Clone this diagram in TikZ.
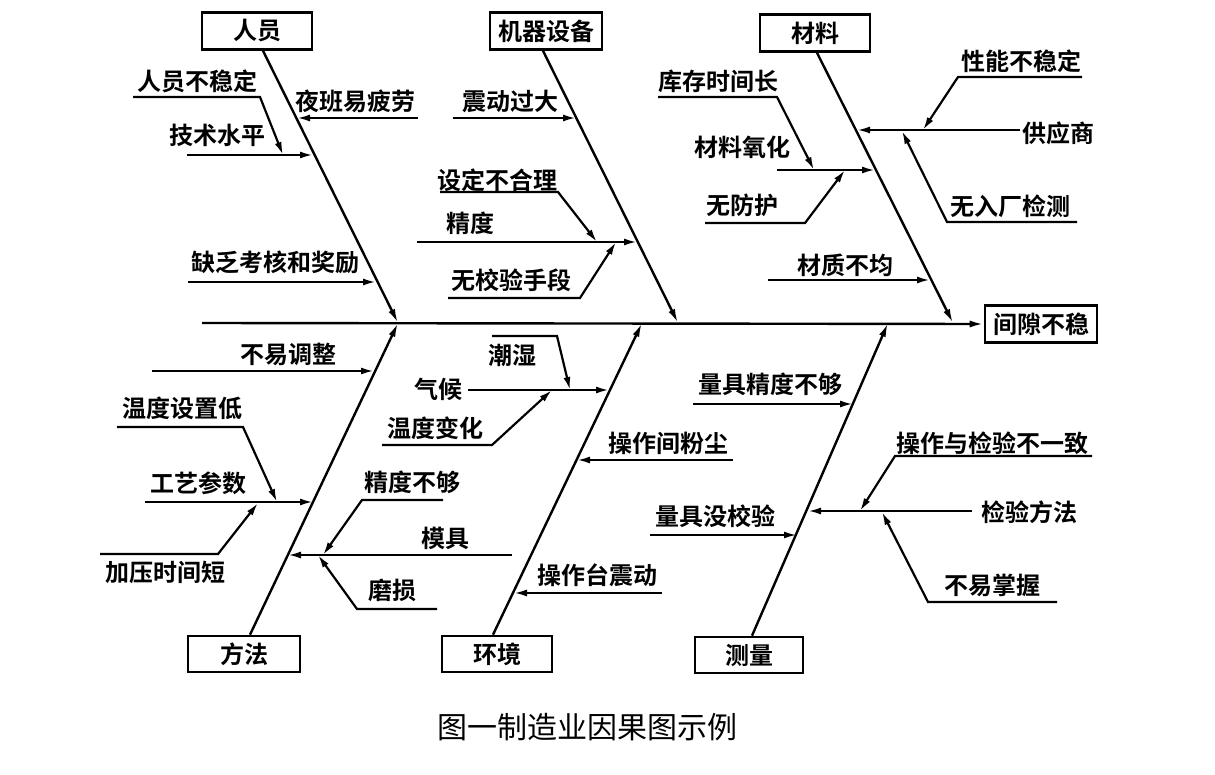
\documentclass[tikz,border=0pt]{standalone}
\usepackage{fontspec}
\usetikzlibrary{arrows.meta}
\IfFontExistsTF{Noto Sans CJK SC Bold}
  {\newfontfamily\lblfont{Noto Sans CJK SC Bold}}
  {\newfontfamily\lblfont[FakeBold=3]{Noto Sans CJK SC}}
\newfontfamily\capfont{Noto Sans CJK SC}
\begin{document}
\begin{tikzpicture}[x=1pt,y=-1pt,
  lbl/.style={font=\lblfont\fontsize{24}{24}\selectfont, inner sep=0pt, anchor=center},
  cat/.style={draw, line width=2.6pt, minimum width=110pt, minimum height=37pt, inner sep=0pt, font=\lblfont\fontsize{24}{24}\selectfont},
  bone/.style={line width=2.4pt, -{Latex[length=14pt,width=7pt]}},
  br/.style={line width=2.2pt, -{Latex[length=13pt,width=7pt]}}
]
\useasboundingbox[fill=white] (0,0) rectangle (1215,775);

% effect and spine
\node[cat, minimum width=112pt] (eff) at (1041,324) {间隙不稳};
\coordinate (tail) at (202,323);
\draw[bone] (tail) -- (eff.west);

% category boxes
\node[cat] (c1) at (257,31) {人员};
\node[cat, minimum width=112pt] (c2) at (546,31) {机器设备};
\node[cat] (c3) at (815,33) {材料};
\node[cat, minimum width=112pt, minimum height=36pt] (c4) at (244,654) {方法};
\node[cat, minimum height=36pt] (c5) at (497,654) {环境};
\node[cat, minimum width=108pt, minimum height=36pt] (c6) at (749,655) {测量};

% junctions on spine
\coordinate (j1) at (398,323);
\coordinate (j2) at (678,323);
\coordinate (j3) at (953,323);
\coordinate (j5) at (642,323);
\coordinate (j6) at (888,323);

% main bones
\draw[bone] ([xshift=6pt]c1.south) -- (j1);
\draw[bone] ([xshift=-3pt]c2.south) -- (j2);
\draw[bone] ([xshift=2pt]c3.south) -- (j3);
\draw[bone] ([xshift=6pt]c4.north) -- (j1);
\draw[bone] ([xshift=-4pt]c5.north) -- (j5);
\draw[bone] ([xshift=3pt]c6.north) -- (j6);

% ===== 人员 =====
\node[lbl] (a1) at (197,81) {人员不稳定};
\coordinate (a1s) at (133,97); \coordinate (a1k) at (260,97);
\node[lbl] (a2) at (217,135) {技术水平};
\coordinate (a2s) at (187,155); \coordinate (a2e) at (313,155); \coordinate (a2m) at (283,155);
\node[lbl] (a3) at (355,101) {夜班易疲劳};
\coordinate (a3s) at (418,118); \coordinate (a3e) at (297,118);
\node[lbl] (a4) at (275,262) {缺乏考核和奖励};
\coordinate (a4s) at (188,282); \coordinate (a4e) at (376,282);
\draw[br] (a1s) -- (a1k) -- (a2m);
\draw[br] (a2s) -- (a2e);
\draw[br] (a3s) -- (a3e);
\draw[br] (a4s) -- (a4e);

% ===== 机器设备 =====
\node[lbl] (b1) at (510,101) {震动过大};
\coordinate (b1s) at (453,118); \coordinate (b1e) at (576,118);
\node[lbl] (b2) at (497,180) {设定不合理};
\coordinate (b2s) at (440,192); \coordinate (b2k) at (558,192); \coordinate (b2m) at (597,242);
\node[lbl] (b3) at (470,223) {精度};
\coordinate (b3s) at (417,242); \coordinate (b3e) at (637,242);
\node[lbl] (b4) at (511,280) {无校验手段};
\coordinate (b4s) at (448,298); \coordinate (b4k) at (580,298); \coordinate (b4m) at (616,242);
\draw[br] (b1s) -- (b1e);
\draw[br] (b2s) -- (b2k) -- (b2m);
\draw[br] (b3s) -- (b3e);
\draw[br] (b4s) -- (b4k) -- (b4m);

% ===== 材料 =====
\node[lbl] (m1) at (718,81) {库存时间长};
\coordinate (m1s) at (658,97); \coordinate (m1k) at (777,97); \coordinate (m1m) at (814,170);
\node[lbl] (m2) at (742,147) {材料氧化};
\coordinate (m2s) at (777,170); \coordinate (m2e) at (875,170);
\node[lbl] (m3) at (742,205) {无防护};
\coordinate (m3s) at (705,223); \coordinate (m3k) at (805,223); \coordinate (m3m) at (845,170);
\node[lbl] (m4) at (845,265) {材质不均};
\coordinate (m4s) at (768,280); \coordinate (m4e) at (930,280);
\node[lbl] (m5) at (1058,133) {供应商};
\coordinate (m5s) at (1020,130); \coordinate (m5e) at (857,130);
\node[lbl] (m6) at (1021,61) {性能不稳定};
\coordinate (m6s) at (1082,77); \coordinate (m6k) at (958,77); \coordinate (m6m) at (923,130);
\node[lbl] (m7) at (1010,206) {无入厂检测};
\coordinate (m7s) at (1077,222); \coordinate (m7k) at (947,222); \coordinate (m7m) at (902,131);
\draw[br] (m1s) -- (m1k) -- (m1m);
\draw[br] (m2s) -- (m2e);
\draw[br] (m3s) -- (m3k) -- (m3m);
\draw[br] (m4s) -- (m4e);
\draw[br] (m5s) -- (m5e);
\draw[br] (m6s) -- (m6k) -- (m6m);
\draw[br] (m7s) -- (m7k) -- (m7m);

% ===== 方法 =====
\node[lbl] (f1) at (288,354) {不易调整};
\coordinate (f1s) at (152,371); \coordinate (f1e) at (374,371);
\node[lbl] (f2) at (182,408) {温度设置低};
\coordinate (f2s) at (117,427); \coordinate (f2k) at (243,427); \coordinate (f2m) at (277,502);
\node[lbl] (f3) at (198,483) {工艺参数};
\coordinate (f3s) at (145,502); \coordinate (f3e) at (313,502);
\node[lbl] (f4) at (165,572) {加压时间短};
\coordinate (f4s) at (100,554); \coordinate (f4k) at (218,554); \coordinate (f4m) at (258,503);
\node[lbl] (f5) at (445,538) {模具};
\coordinate (f5s) at (512,555); \coordinate (f5e) at (288,555);
\node[lbl] (f6) at (412,482) {精度不够};
\coordinate (f6s) at (443,500); \coordinate (f6k) at (362,500); \coordinate (f6m) at (323,555);
\node[lbl] (f7) at (392,590) {磨损};
\coordinate (f7s) at (437,609); \coordinate (f7k) at (357,609); \coordinate (f7m) at (318,555);
\draw[br] (f1s) -- (f1e);
\draw[br] (f2s) -- (f2k) -- (f2m);
\draw[br] (f3s) -- (f3e);
\draw[br] (f4s) -- (f4k) -- (f4m);
\draw[br] (f5s) -- (f5e);
\draw[br] (f6s) -- (f6k) -- (f6m);
\draw[br] (f7s) -- (f7k) -- (f7m);

% ===== 环境 =====
\node[lbl] (e1) at (512,355) {潮湿};
\coordinate (e1s) at (492,336); \coordinate (e1k) at (557,336); \coordinate (e1m) at (570,390);
\node[lbl] (e2) at (438,389) {气候};
\coordinate (e2s) at (468,390); \coordinate (e2e) at (609,390);
\node[lbl] (e3) at (435,428) {温度变化};
\coordinate (e3s) at (382,445); \coordinate (e3k) at (492,445); \coordinate (e3m) at (552,390);
\node[lbl] (e4) at (668,443) {操作间粉尘};
\coordinate (e4s) at (733,460); \coordinate (e4e) at (577,460);
\node[lbl] (e5) at (597,575) {操作台震动};
\coordinate (e5s) at (662,593); \coordinate (e5e) at (514,593);
\draw[br] (e1s) -- (e1k) -- (e1m);
\draw[br] (e2s) -- (e2e);
\draw[br] (e3s) -- (e3k) -- (e3m);
\draw[br] (e4s) -- (e4e);
\draw[br] (e5s) -- (e5e);

% ===== 测量 =====
\node[lbl] (g1) at (770,384) {量具精度不够};
\coordinate (g1s) at (693,404); \coordinate (g1e) at (853,404);
\node[lbl] (g2) at (715,516) {量具没校验};
\coordinate (g2s) at (650,535); \coordinate (g2e) at (797,535);
\node[lbl] (g3) at (1029,512) {检验方法};
\coordinate (g3s) at (972,511); \coordinate (g3e) at (808,511);
\node[lbl] (g4) at (992,443) {操作与检验不一致};
\coordinate (g4s) at (1092,456); \coordinate (g4k) at (895,456); \coordinate (g4m) at (860,511);
\node[lbl] (g5) at (992,585) {不易掌握};
\coordinate (g5s) at (1057,602); \coordinate (g5k) at (928,602); \coordinate (g5m) at (882,512);
\draw[br] (g1s) -- (g1e);
\draw[br] (g2s) -- (g2e);
\draw[br] (g3s) -- (g3e);
\draw[br] (g4s) -- (g4k) -- (g4m);
\draw[br] (g5s) -- (g5k) -- (g5m);

% caption
\node[font=\capfont\fontsize{30}{30}\selectfont, inner sep=0pt] (cap) at (587,727) {图一制造业因果图示例};
\end{tikzpicture}
\end{document}
